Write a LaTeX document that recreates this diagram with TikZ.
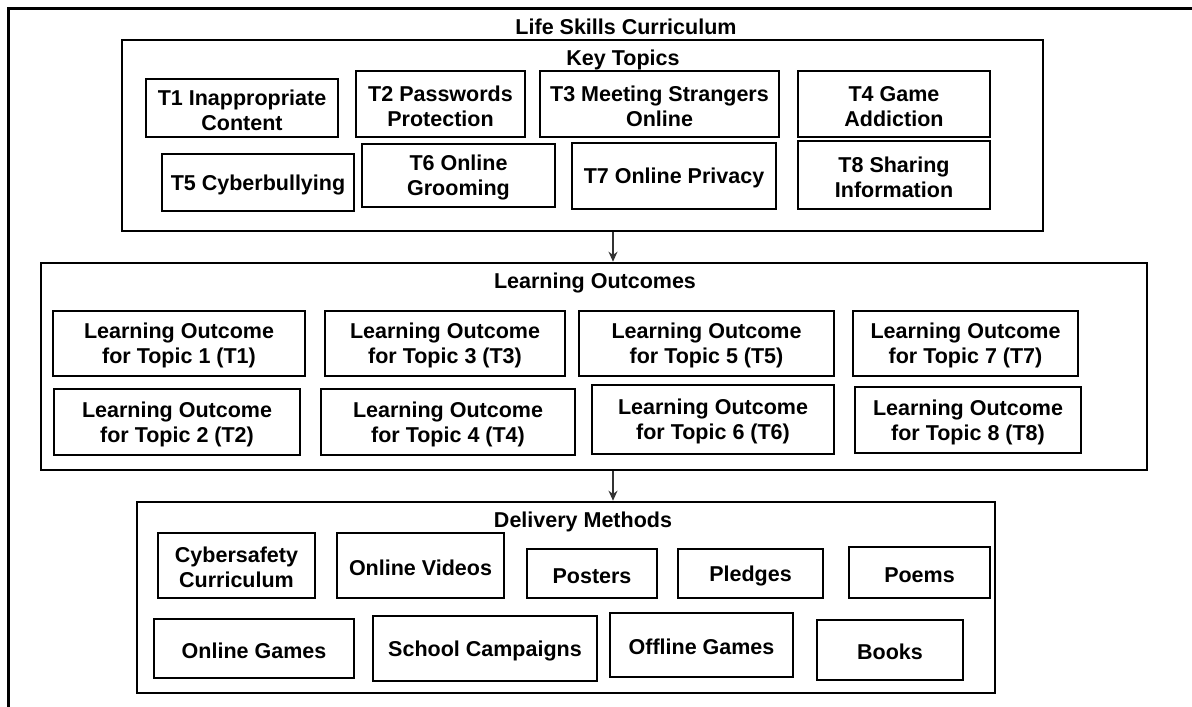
\documentclass[tikz,border=0pt]{standalone}
\usepackage{fontspec}
\setmainfont{Liberation Sans}
\usepackage{tikz}
\usetikzlibrary{arrows.meta}
\tikzset{
	tri/.tip={Stealth[length=10pt, width=9pt]},
	txt/.style={font=\bfseries\fontsize{21.5}{25}\selectfont, align=center, inner sep=0pt,
		execute at begin node={\rule{0pt}{20pt}}},
	group/.style={draw, line width=2.6pt, inner sep=0pt},
	item/.style={txt, draw, line width=2.6pt},
	twoline/.style={item, execute at begin node={\rule{0pt}{45pt}}},
	flow/.style={-tri, line width=1.4pt, black!80},
}

\begin{document}
\begin{tikzpicture}[x=1pt, y=-1pt]
	% page is 1192 x 707, y grows downwards
	\useasboundingbox (0,0) rectangle (1192,707);
	
	% Outer frame
	\draw[line width=3pt] (8,707) -- (8,8) -- (1192,8);
	\node[txt] (title) at (626,25) {Life Skills Curriculum};
	
	% Key topics
	\node[group, minimum width=921, minimum height=191] (topics) at (582.5,135.5) {};
	\node[txt] (topicshead) at (623,58) {Key Topics};
	\node[twoline, minimum width=192, minimum height=58] (t1) at (242,108) {T1 Inappropriate\\Content};
	\node[twoline, minimum width=169, minimum height=66] (t2) at (440.5,104) {T2 Passwords\\Protection};
	\node[twoline, minimum width=239, minimum height=66] (t3) at (659.5,104) {T3 Meeting Strangers\\Online};
	\node[twoline, minimum width=192, minimum height=66] (t4) at (894,104) {T4 Game\\Addiction};
	\node[item, minimum width=192, minimum height=57] (t5) at (258,182.5) {T5 Cyberbullying};
	\node[twoline, minimum width=193, minimum height=63] (t6) at (458.5,175.5) {T6 Online\\Grooming};
	\node[item, minimum width=204, minimum height=66] (t7) at (674,176) {T7 Online Privacy};
	\node[twoline, minimum width=192, minimum height=68] (t8) at (894,175) {T8 Sharing\\Information};
	
	% Learning outcomes
	\node[group, minimum width=1106, minimum height=207] (outcomes) at (594,366.5) {};
	\node[txt] (outcomeshead) at (595,281) {Learning Outcomes};
	\node[twoline, minimum width=252, minimum height=65] (lo1) at (179,343.5) {Learning Outcome\\for Topic 1 (T1)};
	\node[twoline, minimum width=240, minimum height=65] (lo3) at (445,343.5) {Learning Outcome\\for Topic 3 (T3)};
	\node[twoline, minimum width=255, minimum height=65] (lo5) at (706.5,343.5) {Learning Outcome\\for Topic 5 (T5)};
	\node[twoline, minimum width=225, minimum height=65] (lo7) at (965.5,343.5) {Learning Outcome\\for Topic 7 (T7)};
	\node[twoline, minimum width=246, minimum height=66] (lo2) at (177,422) {Learning Outcome\\for Topic 2 (T2)};
	\node[twoline, minimum width=254, minimum height=66] (lo4) at (448,422) {Learning Outcome\\for Topic 4 (T4)};
	\node[twoline, minimum width=242, minimum height=69] (lo6) at (713,419.5) {Learning Outcome\\for Topic 6 (T6)};
	\node[twoline, minimum width=226, minimum height=66] (lo8) at (968,420) {Learning Outcome\\for Topic 8 (T8)};
	
	% Delivery methods
	\node[group, minimum width=858, minimum height=191] (delivery) at (566,597.5) {};
	\node[txt] (deliveryhead) at (583,520) {Delivery Methods};
	\node[twoline, minimum width=157, minimum height=65] (cyber) at (236.5,565.5) {Cybersafety\\Curriculum};
	\node[item, minimum width=167, minimum height=65] (videos) at (420.5,565.5) {Online Videos};
	\node[item, minimum width=130, minimum height=49] (posters) at (592,573.5) {Posters};
	\node[item, minimum width=145, minimum height=49] (pledges) at (750.5,573.5) {Pledges};
	\node[item, minimum width=141, minimum height=51] (poems) at (919.5,572.5) {Poems};
	\node[item, minimum width=200, minimum height=59] (ongames) at (254,648.5) {Online Games};
	\node[item, minimum width=224, minimum height=65] (campaigns) at (485,648.5) {School Campaigns};
	\node[item, minimum width=183, minimum height=64] (offgames) at (701.5,645) {Offline Games};
	\node[item, minimum width=146, minimum height=60] (books) at (890,650) {Books};
	
	% Arrows between the groups
	\coordinate (link) at (613,0);
	\draw[flow] (topics.south -| link) -- (outcomes.north -| link);
	\draw[flow] (outcomes.south -| link) -- (delivery.north -| link);
\end{tikzpicture}
\end{document}
